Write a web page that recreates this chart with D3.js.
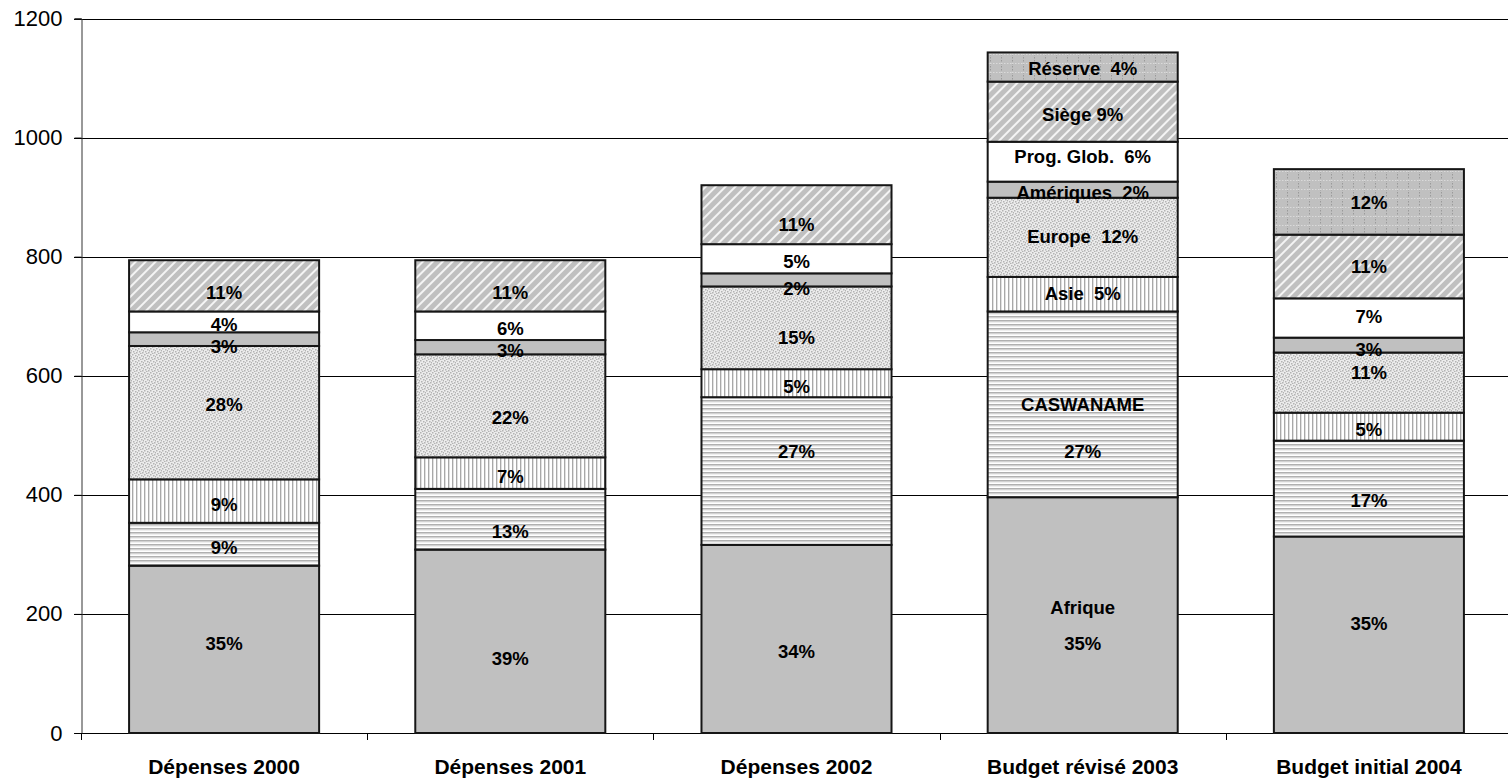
<!DOCTYPE html>
<html>
<head>
<meta charset="utf-8">
<script src="https://cdn.jsdelivr.net/npm/d3@7/dist/d3.min.js"></script>
<style>
  html, body { margin: 0; padding: 0; background: #fff; }
  svg { display: block; }
</style>
</head>
<body>
<svg id="chart" width="1508" height="781"></svg>
<script>
// Budget by region, five periods (stacked columns)
const categories = ["Dépenses 2000", "Dépenses 2001", "Dépenses 2002", "Budget révisé 2003", "Budget initial 2004"];
const regions = ["Afrique", "CASWANAME", "Asie", "Europe", "Amériques", "Prog. Glob.", "Siège", "Réserve"];

const afrique   = [281, 308, 316, 396, 330];
const caswaname = [72, 102, 248, 312, 161];
const asie      = [73, 53, 47, 58, 47];
const europe    = [224, 173, 139, 133, 101];
const ameriques = [23, 24, 22, 27, 25];
const progGlob  = [35, 48, 49, 67, 66];
const siege     = [86, 86, 99, 101, 107];
const reserve   = [0, 0, 0, 49, 110];

const yTicks = [0, 200, 400, 600, 800, 1000, 1200];
// Only this column carries the region names next to the shares
const namedCategory = "Budget révisé 2003";
const nameGap = { "Siège": " " };   // default gap between name and share is two spaces

// Hand placement of some share labels (vertical nudge in px)
const labelShift = {
  "Dépenses 2000": { "Europe": -11, "Afrique": -9, "Siège": 4, "Amériques": 4 },
  "Dépenses 2001": { "Siège": 4, "Europe": 9, "CASWANAME": 9, "Afrique": 14 },
  "Dépenses 2002": { "Siège": 7, "Amériques": 6, "Europe": 7, "CASWANAME": -22, "Afrique": 10 },
  "Budget révisé 2003": { "Prog. Glob.": -8, "Europe": -4, "Asie": -4, "Réserve": -2 },
  "Budget initial 2004": { "Réserve": -2, "Siège": -3, "Prog. Glob.": -4, "Amériques": 1, "Europe": -13, "CASWANAME": 9, "Afrique": -14 }
};
// Two-line labels (name, share) in the named column: offsets from the segment centre
const twoLine = { "CASWANAME": [0, 47], "Afrique": [-8, 28] };

const seriesValues = [afrique, caswaname, asie, europe, ameriques, progGlob, siege, reserve];
const table = categories.map((c, i) => {
  const row = { category: c };
  regions.forEach((r, k) => { row[r] = seriesValues[k][i]; });
  row.total = d3.sum(regions, r => row[r]);
  return row;
});

const svg = d3.select("#chart");
const W = 1508, H = 781;
const plotLeft = 81, plotRight = 1512, plotTop = 18.5, plotBottom = 733;

const x = d3.scaleBand().domain(categories).range([plotLeft, plotRight]).paddingInner(0.336).paddingOuter(0.168);
const y = d3.scaleLinear().domain([0, 1200]).range([plotBottom, plotTop]);

// ---- fill patterns ----
const defs = svg.append("defs");

// horizontal stripes
const ph = defs.append("pattern").attr("id", "hstripes").attr("patternUnits", "userSpaceOnUse")
  .attr("width", 8).attr("height", 4);
ph.append("rect").attr("width", 8).attr("height", 4).attr("fill", "#ffffff");
ph.append("rect").attr("y", 0).attr("width", 8).attr("height", 1.6).attr("fill", "#b0b0b0");
ph.append("rect").attr("y", 1.6).attr("width", 8).attr("height", 0.8).attr("fill", "#d8d8d8");

// vertical stripes
const pv = defs.append("pattern").attr("id", "vstripes").attr("patternUnits", "userSpaceOnUse")
  .attr("width", 4).attr("height", 8);
pv.append("rect").attr("width", 4).attr("height", 8).attr("fill", "#ffffff");
pv.append("rect").attr("x", 0).attr("width", 1.2).attr("height", 8).attr("fill", "#a8a8a8");
pv.append("rect").attr("x", 1.2).attr("width", 0.6).attr("height", 8).attr("fill", "#d8d8d8");

// speckled dots
const pd = defs.append("pattern").attr("id", "dots").attr("patternUnits", "userSpaceOnUse")
  .attr("width", 6).attr("height", 6);
pd.append("rect").attr("width", 6).attr("height", 6).attr("fill", "#ececec");
[[0, 0], [3, 1], [1, 3], [4, 4], [2, 5], [5, 2]].forEach(([dx, dy]) => {
  pd.append("rect").attr("x", dx).attr("y", dy).attr("width", 1.5).attr("height", 1.5).attr("fill", "#b3b3b3");
});

// diagonal hatching
const pg = defs.append("pattern").attr("id", "diag").attr("patternUnits", "userSpaceOnUse")
  .attr("width", 7).attr("height", 7).attr("patternTransform", "rotate(45)");
pg.append("rect").attr("width", 7).attr("height", 7).attr("fill", "#c0c0c0");
pg.append("rect").attr("x", 0).attr("width", 2).attr("height", 7).attr("fill", "#f4f4f4");

// dotted grid on grey
const pr = defs.append("pattern").attr("id", "gridfill").attr("patternUnits", "userSpaceOnUse")
  .attr("width", 11).attr("height", 9);
pr.append("rect").attr("width", 11).attr("height", 9).attr("fill", "#c0c0c0");
pr.append("line").attr("x1", 0.5).attr("x2", 0.5).attr("y1", 0).attr("y2", 9)
  .attr("stroke", "#9a9a9a").attr("stroke-width", 1).attr("stroke-dasharray", "1.5,1.5");
pr.append("line").attr("x1", 0).attr("x2", 11).attr("y1", 0.5).attr("y2", 0.5)
  .attr("stroke", "#dadada").attr("stroke-width", 1).attr("stroke-dasharray", "1.5,1.5");

const fills = {
  "Afrique": "#c0c0c0",
  "CASWANAME": "url(#hstripes)",
  "Asie": "url(#vstripes)",
  "Europe": "url(#dots)",
  "Amériques": "#c0c0c0",
  "Prog. Glob.": "#ffffff",
  "Siège": "url(#diag)",
  "Réserve": "url(#gridfill)"
};

// ---- gridlines ----
svg.append("g")
  .selectAll("line")
  .data(yTicks)
  .join("line")
  .attr("x1", plotLeft - 7).attr("x2", W)
  .attr("y1", d => Math.round(y(d)) + 0.5).attr("y2", d => Math.round(y(d)) + 0.5)
  .attr("stroke", "#000").attr("stroke-width", 1);

// y axis
const yAxis = svg.append("g")
  .attr("transform", `translate(${plotLeft + 0.5},0)`)
  .call(d3.axisLeft(y).tickValues(yTicks).tickSize(7).tickPadding(12).tickFormat(d3.format("d")));
yAxis.select(".domain").attr("stroke", "#333");
yAxis.selectAll(".tick line").attr("stroke", "#000");
yAxis.selectAll("text")
  .attr("font-family", "Liberation Sans, Arial, sans-serif")
  .attr("font-size", 22).attr("fill", "#000");

// x axis: baseline, boundary ticks, bold labels
const xAxis = svg.append("g")
  .attr("transform", `translate(0,${Math.round(plotBottom) + 0.5})`)
  .call(d3.axisBottom(x).tickSize(0).tickPadding(26));
xAxis.select(".domain").remove();
xAxis.selectAll("text")
  .attr("font-family", "Liberation Sans, Arial, sans-serif")
  .attr("font-size", 21).attr("font-weight", "bold").attr("fill", "#000");
const step = x.step();
svg.append("g")
  .selectAll("line")
  .data(d3.range(categories.length + 1))
  .join("line")
  .attr("x1", i => Math.round(plotLeft + i * step) + 0.5)
  .attr("x2", i => Math.round(plotLeft + i * step) + 0.5)
  .attr("y1", plotBottom).attr("y2", plotBottom + 7)
  .attr("stroke", "#000");

// ---- stacked bars ----
const stack = d3.stack().keys(regions);
const layers = stack(table);

const barG = svg.append("g");
layers.forEach(layer => {
  barG.append("g")
    .selectAll("rect")
    .data(layer.filter(d => d[1] - d[0] > 0))
    .join("rect")
    .attr("x", d => x(d.data.category))
    .attr("width", x.bandwidth())
    .attr("y", d => y(d[1]))
    .attr("height", d => y(d[0]) - y(d[1]))
    .attr("fill", fills[layer.key])
    .attr("stroke", "#161616")
    .attr("stroke-width", 2);
});

// ---- labels ----
const fmtPct = (v, total) => Math.round(v / total * 100) + "%";
const labelG = svg.append("g")
  .attr("font-family", "Liberation Sans, Arial, sans-serif")
  .attr("font-size", 18.5).attr("font-weight", "bold").attr("fill", "#000")
  .attr("text-anchor", "middle");

layers.forEach(layer => {
  layer.forEach(d => {
    const v = d[1] - d[0];
    if (v <= 0) return;
    const cat = d.data.category;
    const cx = x(cat) + x.bandwidth() / 2;
    const cy = (y(d[0]) + y(d[1])) / 2;
    const pct = fmtPct(v, d.data.total);
    const named = cat === namedCategory;
    if (named && twoLine[layer.key]) {
      const [o1, o2] = twoLine[layer.key];
      labelG.append("text").attr("x", cx).attr("y", cy + o1).attr("dy", "0.35em").text(layer.key);
      labelG.append("text").attr("x", cx).attr("y", cy + o2).attr("dy", "0.35em").text(pct);
    } else {
      const shift = (labelShift[cat] && labelShift[cat][layer.key]) || 0;
      const gap = nameGap[layer.key] || "  ";
      labelG.append("text")
        .attr("x", cx).attr("y", cy + 3 + shift).attr("dy", "0.35em")
        .style("white-space", "pre")
        .text(named ? layer.key + gap + pct : pct);
    }
  });
});
</script>
</body>
</html>
